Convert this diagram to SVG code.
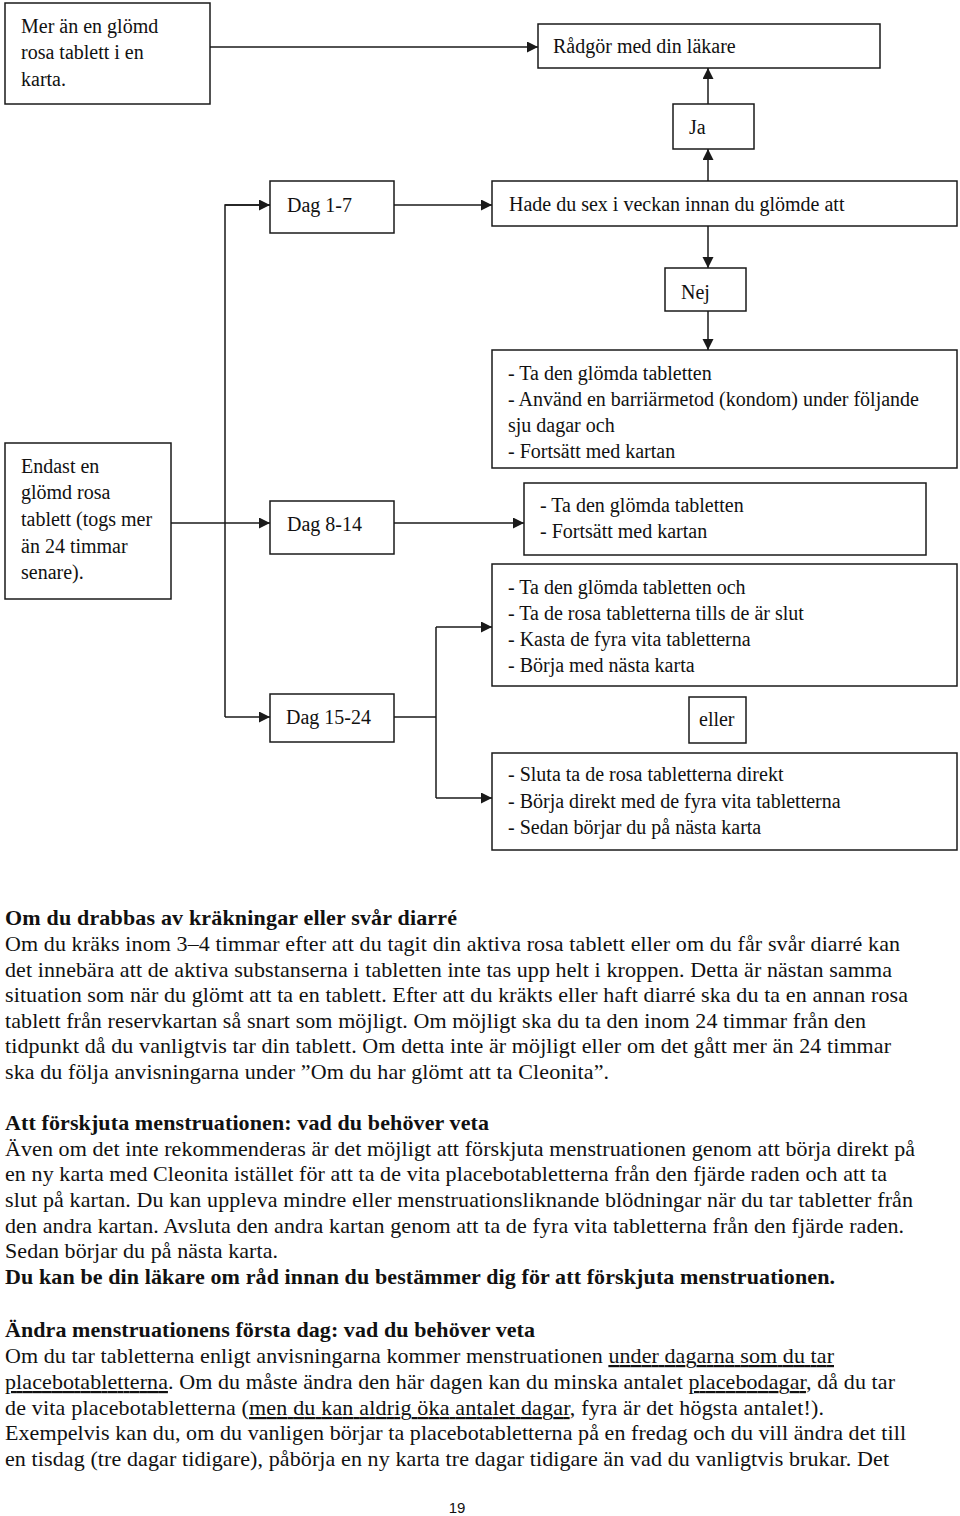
<svg xmlns="http://www.w3.org/2000/svg" width="960" height="1516" viewBox="0 0 960 1516">
<defs>
<style>
.box{fill:#fff;stroke:#1a1a1a;stroke-width:1.5}
.ln{fill:none;stroke:#1a1a1a;stroke-width:1.5}
.t{font-family:"Liberation Serif","Times New Roman",serif;font-size:20px;fill:#111}
.b{font-family:"Liberation Serif","Times New Roman",serif;font-size:22px;fill:#111}
.bb{font-family:"Liberation Serif","Times New Roman",serif;font-size:22px;font-weight:bold;fill:#111}
.u{text-decoration:underline}
.pg{font-family:"Liberation Sans",Arial,sans-serif;font-size:15px;fill:#111}
</style>
<marker id="ah" markerWidth="12" markerHeight="12" refX="11" refY="5.5" orient="auto" markerUnits="userSpaceOnUse">
<path d="M0,0 L11,5.5 L0,11 z" fill="#1a1a1a"/>
</marker>
</defs>
<rect width="960" height="1516" fill="#fff"/>

<g id="connectors">
<line class="ln" x1="210" y1="47" x2="538" y2="47" marker-end="url(#ah)"/>
<line class="ln" x1="394" y1="205" x2="492" y2="205" marker-end="url(#ah)"/>
<line class="ln" x1="708" y1="181" x2="708" y2="149" marker-end="url(#ah)"/>
<line class="ln" x1="708" y1="104" x2="708" y2="68" marker-end="url(#ah)"/>
<line class="ln" x1="708" y1="226" x2="708" y2="268" marker-end="url(#ah)"/>
<line class="ln" x1="708" y1="311" x2="708" y2="350" marker-end="url(#ah)"/>
<polyline class="ln" points="270,205 225,205 225,717"/>
<line class="ln" x1="225" y1="205" x2="270" y2="205" marker-end="url(#ah)"/>
<line class="ln" x1="225" y1="717" x2="270" y2="717" marker-end="url(#ah)"/>
<line class="ln" x1="171" y1="523" x2="270" y2="523" marker-end="url(#ah)"/>
<line class="ln" x1="394" y1="523" x2="524" y2="523" marker-end="url(#ah)"/>
<line class="ln" x1="394" y1="717" x2="436" y2="717"/>
<line class="ln" x1="436" y1="627" x2="436" y2="798"/>
<line class="ln" x1="436" y1="627" x2="492" y2="627" marker-end="url(#ah)"/>
<line class="ln" x1="436" y1="798" x2="492" y2="798" marker-end="url(#ah)"/>
</g>

<g id="n-mer">
<rect class="box" x="5" y="3" width="205" height="101"/>
<text class="t" x="21" y="33">Mer än en glömd</text>
<text class="t" x="21" y="59">rosa tablett i en</text>
<text class="t" x="21" y="86">karta.</text>
</g>
<g id="n-radgor">
<rect class="box" x="538" y="24" width="342" height="44"/>
<text class="t" x="553" y="53">Rådgör med din läkare</text>
</g>
<g id="n-ja">
<rect class="box" x="673" y="104" width="81" height="45"/>
<text class="t" x="689" y="134">Ja</text>
</g>
<g id="n-dag17">
<rect class="box" x="270" y="181" width="124" height="52"/>
<text class="t" x="287" y="212">Dag 1-7</text>
</g>
<g id="n-hade">
<rect class="box" x="492" y="181" width="465" height="45"/>
<text class="t" x="509" y="211">Hade du sex i veckan innan du glömde att</text>
</g>
<g id="n-nej">
<rect class="box" x="665" y="268" width="81" height="43"/>
<text class="t" x="681" y="299">Nej</text>
</g>
<g id="n-endast">
<rect class="box" x="5" y="443" width="166" height="156"/>
<text class="t" x="21" y="473">Endast en</text>
<text class="t" x="21" y="499">glömd rosa</text>
<text class="t" x="21" y="526">tablett (togs mer</text>
<text class="t" x="21" y="553">än 24 timmar</text>
<text class="t" x="21" y="579">senare).</text>
</g>
<g id="n-dag814">
<rect class="box" x="270" y="501" width="124" height="53"/>
<text class="t" x="287" y="531">Dag 8-14</text>
</g>
<g id="n-dag1524">
<rect class="box" x="270" y="694" width="124" height="48"/>
<text class="t" x="286" y="724">Dag 15-24</text>
</g>
<g id="n-nej-action">
<rect class="box" x="492" y="350" width="465" height="118"/>
<text class="t" x="508" y="380">- Ta den glömda tabletten</text>
<text class="t" x="508" y="406">- Använd en barriärmetod (kondom) under följande</text>
<text class="t" x="508" y="432">sju dagar och</text>
<text class="t" x="508" y="458">- Fortsätt med kartan</text>
</g>
<g id="n-dag814-action">
<rect class="box" x="524" y="483" width="402" height="72"/>
<text class="t" x="540" y="512">- Ta den glömda tabletten</text>
<text class="t" x="540" y="538">- Fortsätt med kartan</text>
</g>
<g id="n-opt1">
<rect class="box" x="492" y="564" width="465" height="122"/>
<text class="t" x="508" y="594">- Ta den glömda tabletten och</text>
<text class="t" x="508" y="620">- Ta de rosa tabletterna tills de är slut</text>
<text class="t" x="508" y="646">- Kasta de fyra vita tabletterna</text>
<text class="t" x="508" y="672">- Börja med nästa karta</text>
</g>
<g id="n-eller">
<rect class="box" x="689" y="697" width="57" height="46"/>
<text class="t" x="699" y="726">eller</text>
</g>
<g id="n-opt2">
<rect class="box" x="492" y="753" width="465" height="97"/>
<text class="t" x="508" y="781">- Sluta ta de rosa tabletterna direkt</text>
<text class="t" x="508" y="808">- Börja direkt med de fyra vita tabletterna</text>
<text class="t" x="508" y="834">- Sedan börjar du på nästa karta</text>
</g>

<g id="text-vomit">
<text class="bb" x="5" y="925" textLength="452">Om du drabbas av kräkningar eller svår diarré</text>
<text class="b" x="5" y="951" textLength="895">Om du kräks inom 3–4 timmar efter att du tagit din aktiva rosa tablett eller om du får svår diarré kan</text>
<text class="b" x="5" y="977" textLength="887">det innebära att de aktiva substanserna i tabletten inte tas upp helt i kroppen. Detta är nästan samma</text>
<text class="b" x="5" y="1002" textLength="903">situation som när du glömt att ta en tablett. Efter att du kräkts eller haft diarré ska du ta en annan rosa</text>
<text class="b" x="5" y="1028" textLength="861">tablett från reservkartan så snart som möjligt. Om möjligt ska du ta den inom 24 timmar från den</text>
<text class="b" x="5" y="1053" textLength="886">tidpunkt då du vanligtvis tar din tablett. Om detta inte är möjligt eller om det gått mer än 24 timmar</text>
<text class="b" x="5" y="1079" textLength="604">ska du följa anvisningarna under ”Om du har glömt att ta Cleonita”.</text>
</g>

<g id="text-postpone">
<text class="bb" x="5" y="1130" textLength="484">Att förskjuta menstruationen: vad du behöver veta</text>
<text class="b" x="5" y="1156" textLength="910">Även om det inte rekommenderas är det möjligt att förskjuta menstruationen genom att börja direkt på</text>
<text class="b" x="5" y="1181" textLength="882">en ny karta med Cleonita istället för att ta de vita placebotabletterna från den fjärde raden och att ta</text>
<text class="b" x="5" y="1207" textLength="908">slut på kartan. Du kan uppleva mindre eller menstruationsliknande blödningar när du tar tabletter från</text>
<text class="b" x="5" y="1233" textLength="899">den andra kartan. Avsluta den andra kartan genom att ta de fyra vita tabletterna från den fjärde raden.</text>
<text class="b" x="5" y="1258" textLength="273">Sedan börjar du på nästa karta.</text>
<text class="bb" x="5" y="1284" textLength="830">Du kan be din läkare om råd innan du bestämmer dig för att förskjuta menstruationen.</text>
</g>

<g id="text-firstday">
<text class="bb" x="5" y="1337" textLength="530">Ändra menstruationens första dag: vad du behöver veta</text>
<text class="b" x="5" y="1363" textLength="829">Om du tar tabletterna enligt anvisningarna kommer menstruationen <tspan class="u">under dagarna som du tar</tspan></text>
<text class="b" x="5" y="1389" textLength="890"><tspan class="u">placebotabletterna</tspan>. Om du måste ändra den här dagen kan du minska antalet <tspan class="u">placebodagar</tspan>, då du tar</text>
<text class="b" x="5" y="1415" textLength="819">de vita placebotabletterna (<tspan class="u">men du kan aldrig öka antalet dagar</tspan>, fyra är det högsta antalet!).</text>
<text class="b" x="5" y="1440" textLength="901">Exempelvis kan du, om du vanligen börjar ta placebotabletterna på en fredag och du vill ändra det till</text>
<text class="b" x="5" y="1466" textLength="884">en tisdag (tre dagar tidigare), påbörja en ny karta tre dagar tidigare än vad du vanligtvis brukar. Det</text>
</g>

<text class="pg" x="457" y="1513" text-anchor="middle">19</text>
</svg>
